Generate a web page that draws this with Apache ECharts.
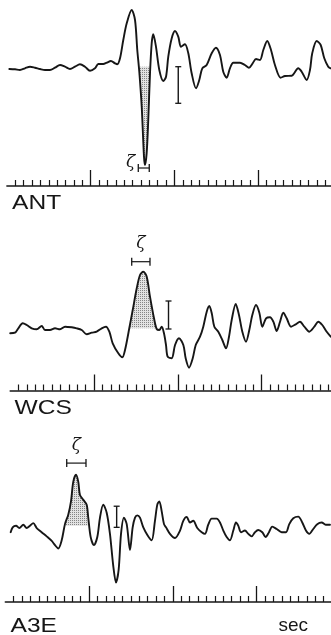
<!DOCTYPE html>
<html>
<head>
<meta charset="utf-8">
<script src="https://cdn.jsdelivr.net/npm/echarts@6/dist/echarts.min.js"></script>
<style>
  html, body { margin: 0; padding: 0; background: #ffffff; }
  #chart { width: 331px; height: 635px; }
</style>
</head>
<body>
<div id="chart"></div>
<script>
// Station records: [time (s), amplitude (trace units)]
const stations = ['ANT', 'WCS', 'A3E'];

const antTrace = [
  [0.29,0],[0.97,-0.3],[1.56,-1],[2.16,0.7],[2.76,2.3],[3.35,1.3],[3.95,0],[4.55,-1],[5.14,-1],[5.74,1.3],
  [6.34,4],[6.93,2.3],[7.53,0],[8.13,2.3],[8.72,4.7],[9.32,2.3],[9.92,-1.7],[10.51,0.7],[10.91,5],[11.5,5],
  [11.91,6.3],[12.42,8],[12.9,5.7],[13.17,4.7],[13.5,10.7],[13.89,29],[14.3,45.7],[14.89,59],[15.29,49],[15.56,19],
  [15.8,-2.7],[16.09,-37.7],[16.36,-87.7],[16.48,-96],[16.68,-84.3],[16.87,-51],[17.08,-4.3],[17.28,25.7],[17.47,34.7],[17.79,22.3],
  [18.19,-1],[18.66,-12],[18.99,-7.7],[19.26,12.3],[19.67,30.7],[20.06,38],[20.45,32.3],[20.78,22.3],[21.25,24.7],[21.65,15.7],
  [22.05,-4.3],[22.57,-19.3],[22.96,-11],[23.32,0.7],[23.84,4],[24.44,15.7],[24.95,21.3],[25.43,14],[25.82,-2.7],[26.23,-8.7],
  [26.62,0.7],[27.02,6.3],[27.82,6.3],[28.41,4],[28.89,1.3],[29.33,5.7],[29.73,10],[30.2,9],[30.6,19],[31.07,28],
  [31.52,19],[31.99,4],[32.67,-8.7],[33.19,-7],[33.99,-6.7],[34.77,0.7],[35.18,-2.7],[35.78,-11],[36.17,-1],[36.44,15.7],
  [36.97,28],[37.45,24],[37.88,10.7],[38.35,2.3],[38.64,0.7]
];
const wcsTrace = [
  [0,-3.3],[0.57,-2.7],[0.97,1.7],[1.49,6.7],[1.97,5],[2.57,1.7],[3.16,0.7],[3.76,4],[4.15,0],[4.75,0],
  [5.35,1.7],[5.94,0.7],[6.54,3.3],[7.34,2.7],[7.94,1.7],[8.53,0],[9.13,-4.3],[9.73,-2.7],[10.32,-1.7],[10.92,1.7],
  [11.43,3.3],[11.83,-1.7],[12.23,-13.3],[12.9,-23.3],[13.38,-27.3],[13.7,-20],[14.21,1.7],[14.62,20],[15.1,41.7],[15.49,55],
  [15.88,58.3],[16.29,53.3],[16.68,33.3],[17.16,11.7],[17.48,1],[17.79,0],[18.08,3.3],[18.35,-3.3],[18.59,-15],[18.79,-26.7],
  [19.27,-28.3],[19.67,-15],[20.14,-8.3],[20.66,-15],[20.94,-28.3],[21.34,-37.7],[21.78,-28.3],[22.14,-15],[22.65,-6.7],[23.04,3.3],
  [23.45,18.3],[23.76,24],[24.05,16.7],[24.36,3.3],[24.83,-1.7],[25.31,-10],[25.75,-18.3],[26.11,-6.7],[26.43,10],[26.91,26],
  [27.3,15],[27.7,-1.7],[28.14,-11.7],[28.53,0],[28.89,15],[29.33,25],[29.73,17.3],[30.08,3.3],[30.53,11.7],[31,12.7],
  [31.4,8.3],[31.8,-1],[32.2,8.3],[32.59,17.3],[32.99,11.7],[33.51,3.3],[34.07,5.7],[34.58,8.3],[35.1,3.3],[35.69,-1.7],
  [36.29,3.3],[36.77,8.3],[37.24,5],[37.77,-1.7],[38.25,-6.7]
];
const a3eTrace = [
  [0.64,-7],[0.88,-2],[1.28,-0.3],[1.67,-2.7],[2.15,0.7],[2.55,-2.7],[2.95,-0.3],[3.34,2.3],[3.75,-2.7],[4.34,-7],
  [4.94,-11.3],[5.54,-16],[5.93,-20.3],[6.32,-23.7],[6.73,-15.3],[7.12,1.3],[7.52,11.3],[7.84,24.7],[8.11,44.7],[8.44,52],
  [8.71,44.7],[8.91,31.3],[9.31,26.3],[9.71,21.3],[9.9,8],[10.19,-12],[10.58,-20.3],[10.98,-12],[11.3,8],[11.69,21.3],
  [12.1,13],[12.49,-8.7],[12.89,-42],[13.21,-58.7],[13.53,-45.3],[13.81,-8.7],[14.16,8],[14.49,1.3],[14.88,-25.3],[15.2,-2],
  [15.48,8],[15.75,10.3],[16.07,8],[16.47,-2],[16.99,-10.3],[17.47,-15.3],[17.86,4.7],[18.14,21.3],[18.38,24.7],[18.66,14.7],
  [18.94,1.3],[19.18,-2],[19.65,-8.7],[20.25,-13],[20.85,-5.3],[21.24,4.7],[21.65,8.7],[22.04,3],[22.43,4.7],[22.91,-2.7],
  [23.44,-7],[23.83,-8.7],[24.22,0.7],[24.63,7],[25.23,7],[25.62,3],[26.02,-5.3],[26.42,-12],[26.81,-15.3],[27.21,-5.3],
  [27.53,3],[27.8,-0.3],[28.13,-7],[28.6,-5.3],[29,-8.7],[29.4,-11.3],[29.8,-7],[30.19,-4.7],[30.67,-7],[31.07,-12],
  [31.47,-7],[31.86,-1.3],[32.39,-3.7],[32.98,-7],[33.5,-7],[33.89,1.3],[34.37,7.3],[34.96,9],[35.44,3],[35.88,-5.3],
  [36.28,-8.7],[36.75,-3.7],[37.23,1.3],[37.76,3],[38.23,0.7],[38.75,0.7]
];

// Shaded first pulse of each record and the level it is measured from
const antPulse = [[15.7,2.3],[15.8,-2.7],[16.09,-37.7],[16.36,-87.7],[16.48,-96],[16.68,-84.3],[16.87,-51],[17.08,-4.3],[17.12,2.3]];
const wcsPulse = [[14.21,1.7],[14.62,20],[15.1,41.7],[15.49,55],[15.88,58.3],[16.29,53.3],[16.68,33.3],[17.16,11.7],[17.42,1.7]];
const a3ePulse = [[7.15,-0.3],[7.52,11.3],[7.84,24.7],[8.11,44.7],[8.44,52],[8.71,44.7],[8.91,31.3],[9.31,26.3],[9.71,21.3],[9.9,8],[9.9,-0.3]];
const pulseLevels = [2.3, 1.7, -0.3];

// Pulse width ζ: [start s, end s, amplitude level of the bracket]
const zetaBars = [[15.68, 16.99, -99], [14.5, 16.68, 68.3], [7.33, 9.63, 64]];
// Amplitude scale bar: [time s, top, bottom]
const scaleBars = [[20.45, 2.3, -34.3], [18.89, 29, 1], [13.29, 19.7, -2]];

// Time axis: major tick every 10 s, minor every 1 s
const majorTicks = [10, 20, 30];
const traces = [antTrace, wcsTrace, a3eTrace];
const pulses = [antPulse, wcsPulse, a3ePulse];

// Panel layout (pixels) and amplitude windows
const panels = [
  { left: 6.9,  top: 0,   height: 186,   yMin: -117,  yMax: 69,  zetaSide: 'left', labelX: 12,   labelY: 193 },
  { left: 10.2, top: 230, height: 160.5, yMin: -60.5, yMax: 100, zetaSide: 'top',  labelX: 14.5, labelY: 397.5 },
  { left: 5.3,  top: 430, height: 176.7, yMin: -78.7, yMax: 98,  zetaSide: 'top',  labelX: 10.5, labelY: 616 }
];
const PX_PER_SEC = 8.38;
const INK = '#161616';
const SANS = '"Liberation Sans", Arial, Helvetica, sans-serif';

// Fine stipple texture for the shaded pulses
const tex = document.createElement('canvas');
tex.width = 2; tex.height = 2;
const tc = tex.getContext('2d');
tc.fillStyle = '#e2e2e2'; tc.fillRect(0, 0, 2, 2);
tc.fillStyle = '#858585'; tc.fillRect(0, 0, 1, 1);
const stipple = { image: tex, repeat: 'repeat' };

const chart = echarts.init(document.getElementById('chart'), null, { renderer: 'canvas' });

const grid = [], xAxis = [], yAxis = [], series = [], graphic = [];
panels.forEach((p, i) => {
  const width = 331 - p.left;
  grid.push({ left: p.left, top: p.top, width: width, height: p.height });
  xAxis.push({
    type: 'value', gridIndex: i, min: 0, max: +(width / PX_PER_SEC).toFixed(2), interval: 10,
    axisLine: { show: true, onZero: false, lineStyle: { color: INK, width: 1.5 } },
    axisTick: { show: true, inside: true, length: 16, customValues: majorTicks, lineStyle: { color: INK, width: 1.3 } },
    minorTick: { show: true, splitNumber: 10, length: 6, lineStyle: { color: INK, width: 1.2 } },
    axisLabel: { show: false },
    splitLine: { show: false },
    name: i === 2 ? 'sec' : '',
    nameLocation: 'end',
    nameGap: -23,
    nameTextStyle: { align: 'right', verticalAlign: 'top', padding: [14, 0, 0, 0], fontFamily: SANS, fontSize: 19, color: INK }
  });
  yAxis.push({ type: 'value', gridIndex: i, min: p.yMin, max: p.yMax, show: false, splitLine: { show: false } });

  // Station name under each time axis (letters set wide)
  graphic.push({
    type: 'text', x: p.labelX, y: p.labelY, scaleX: 1.17, silent: true,
    style: { text: stations[i], font: '21px ' + SANS, fill: INK, verticalAlign: 'top' }
  });

  series.push({
    type: 'line', xAxisIndex: i, yAxisIndex: i, data: pulses[i], smooth: false,
    showSymbol: false, silent: true, z: 1,
    lineStyle: { width: 0, opacity: 0 },
    areaStyle: { origin: pulseLevels[i], color: stipple, opacity: 1 }
  });
  series.push({
    type: 'line', xAxisIndex: i, yAxisIndex: i, data: traces[i], smooth: 0.3,
    showSymbol: false, silent: true, z: 3, clip: false,
    lineStyle: { color: INK, width: 1.9, join: 'round', cap: 'round' }
  });

  const zb = zetaBars[i], sb = scaleBars[i];
  series.push({
    type: 'custom', xAxisIndex: i, yAxisIndex: i, data: [0], silent: true, z: 4, clip: false,
    renderItem(params, api) {
      const a = api.coord([zb[0], zb[2]]), b = api.coord([zb[1], zb[2]]);
      const s1 = api.coord([sb[0], sb[1]]), s2 = api.coord([sb[0], sb[2]]);
      const seg = (x1, y1, x2, y2, w) => ({ type: 'line', shape: { x1, y1, x2, y2 }, style: { stroke: INK, lineWidth: w } });
      const label = p.zetaSide === 'left'
        ? { x: a[0] - 3, y: a[1] - 5, align: 'right' }
        : { x: (a[0] + b[0]) / 2, y: a[1] - 18, align: 'center' };
      return {
        type: 'group',
        children: [
          seg(a[0], a[1], b[0], b[1], 1.2),
          seg(a[0], a[1] - 4, a[0], a[1] + 4, 1.3),
          seg(b[0], b[1] - 4, b[0], b[1] + 4, 1.3),
          seg(s1[0], s1[1], s2[0], s2[1], 1.4),
          seg(s1[0] - 3, s1[1], s1[0] + 3, s1[1], 1.3),
          seg(s2[0] - 3, s2[1], s2[0] + 3, s2[1], 1.3),
          {
            type: 'text',
            style: {
              text: 'ζ', x: label.x, y: label.y, align: label.align, verticalAlign: 'middle',
              font: 'italic 17px "DejaVu Serif", "Liberation Serif", serif', fill: INK
            }
          }
        ]
      };
    }
  });
});

chart.setOption({ animation: false, backgroundColor: '#ffffff', grid, xAxis, yAxis, series, graphic });
</script>
</body>
</html>
